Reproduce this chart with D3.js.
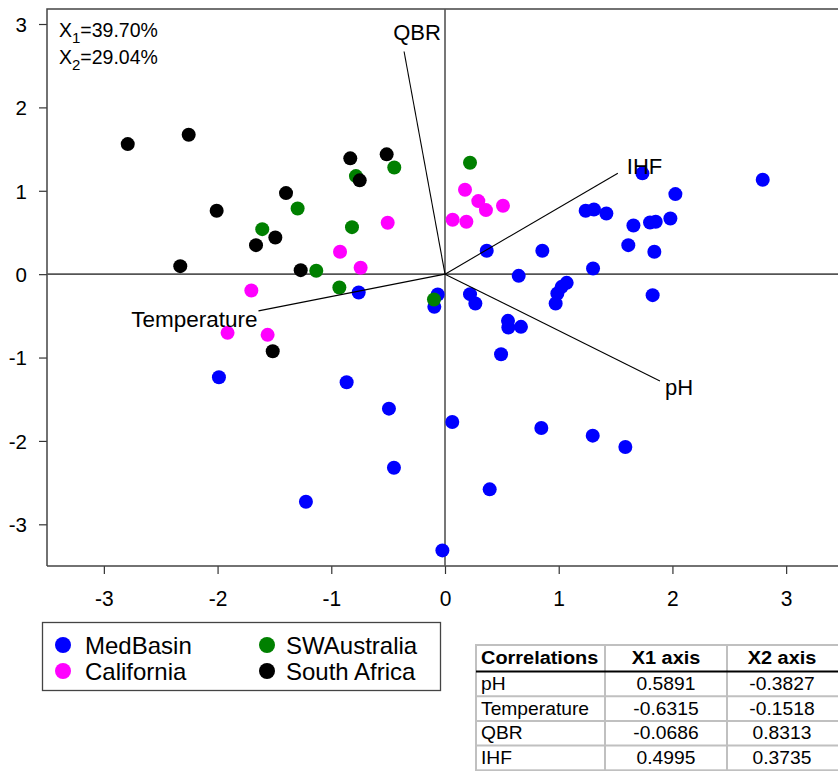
<!DOCTYPE html>
<html>
<head>
<meta charset="utf-8">
<script src="https://cdn.jsdelivr.net/npm/d3@7"></script>
<style>
  html, body { margin: 0; padding: 0; background: #fff; }
  svg { display: block; font-family: "Liberation Sans", Arial, sans-serif; }
</style>
</head>
<body>
<svg id="chart" width="838" height="771"></svg>
<script>
// ---------------- data ----------------
const groupNames = ["MedBasin", "California", "SWAustralia", "South Africa"];
const groupColors = ["#0000ff", "#ff00ff", "#008000", "#000000"];

const medBasin = [
  [1.736, 1.209], [2.794, 1.132], [2.026, 0.96], [1.237, 0.76], [1.31, 0.776],
  [1.419, 0.728], [1.657, 0.584], [1.803, 0.62], [1.853, 0.628], [1.982, 0.668],
  [1.612, 0.348], [1.841, 0.268], [0.367, 0.28], [0.856, 0.28], [1.302, 0.068],
  [0.648, -0.02], [1.07, -0.104], [1.026, -0.152], [0.988, -0.232], [0.973, -0.352],
  [1.826, -0.252], [0.22, -0.24], [0.267, -0.352], [0.554, -0.56], [0.557, -0.64],
  [0.668, -0.632], [0.493, -0.96], [-0.064, -0.244], [-0.094, -0.392], [0.064, -1.773],
  [0.847, -1.845], [1.299, -1.937], [1.586, -2.073], [0.393, -2.581], [-0.023, -3.313],
  [-0.759, -0.22], [-1.988, -1.237], [-0.865, -1.297], [-0.493, -1.613], [-0.449, -2.321],
  [-1.223, -2.729]
];
const california = [
  [-0.504, 0.616], [-0.923, 0.268], [-0.742, 0.076], [-1.703, -0.196], [-1.912, -0.704],
  [-1.56, -0.728], [0.176, 1.012], [0.293, 0.876], [0.36, 0.768], [0.51, 0.82],
  [0.067, 0.652], [0.188, 0.628]
];
const swAustralia = [
  [-0.783, 1.176], [-0.446, 1.28], [-1.296, 0.788], [-1.607, 0.54], [-0.818, 0.564],
  [-1.132, 0.04], [-0.929, -0.16], [0.22, 1.336], [-0.097, -0.304]
];
const southAfrica = [
  [-2.79, 1.56], [-2.254, 1.672], [-2.008, 0.76], [-1.398, 0.972], [-1.662, 0.348],
  [-1.492, 0.44], [-2.328, 0.096], [-1.269, 0.048], [-0.833, 1.389], [-0.513, 1.437],
  [-0.75, 1.125], [-1.515, -0.924]
];
// draw order: blue, magenta, green, black
const groups = [medBasin, california, swAustralia, southAfrica];

const vectorNames = ["pH", "Temperature", "QBR", "IHF"];
const vectorX = [1.89, -1.64, -0.36, 1.52];
const vectorY = [-1.28, -0.44, 2.67, 1.21];

const axisTicks = [-3, -2, -1, 0, 1, 2, 3];
const varianceLabels = [["X", "1", "=39.70%"], ["X", "2", "=29.04%"]];

const tableHeader = ["Correlations", "X1 axis", "X2 axis"];
const tableRows = ["pH", "Temperature", "QBR", "IHF"];
const corrX1 = ["0.5891", "-0.6315", "-0.0686", "0.4995"];
const corrX2 = ["-0.3827", "-0.1518", "0.8313", "0.3735"];

// ---------------- layout ----------------
const svg = d3.select("#chart");
const plot = { left: 47, top: 9, right: 843, bottom: 566 };
const x = d3.scaleLinear().domain([-3.5, 3.5]).range([plot.left, plot.right]);
const y = d3.scaleLinear().domain([-3.5, 3.18]).range([plot.bottom, plot.top]);

svg.append("defs").append("clipPath").attr("id", "clip")
  .append("rect").attr("x", plot.left).attr("y", plot.top)
  .attr("width", plot.right - plot.left).attr("height", plot.bottom - plot.top);

const fmt = d => String(d);  // plain hyphen-minus as in the original

// axes
const xAxis = svg.append("g")
  .attr("transform", `translate(0,${plot.bottom})`)
  .call(d3.axisBottom(x).tickValues(axisTicks).tickSize(8).tickPadding(12).tickFormat(fmt));
const yAxis = svg.append("g")
  .attr("transform", `translate(${plot.left},0)`)
  .call(d3.axisLeft(y).tickValues(axisTicks).tickSize(8).tickPadding(12).tickFormat(fmt));
[xAxis, yAxis].forEach(a => {
  a.select(".domain").remove();
  a.selectAll(".tick line").attr("stroke", "#333").attr("stroke-width", 1.2);
  a.selectAll(".tick text").attr("fill", "#000")
    .style("font-family", "'Liberation Sans', Arial, sans-serif");
});
xAxis.selectAll(".tick text").style("font-size", "21px")
  .attr("dy", 0)
  .attr("transform", "scale(1,1.08)")
  .attr("y", 40 / 1.08);
yAxis.selectAll(".tick text").style("font-size", "20.5px").attr("dy", "0.36em");

// frame
svg.append("path")
  .attr("d", `M${plot.left},${plot.bottom}H${plot.right}M${plot.left},${plot.bottom}V${plot.top}H${plot.right}`)
  .attr("fill", "none").attr("stroke", "#444").attr("stroke-width", 1.5);

const inner = svg.append("g").attr("clip-path", "url(#clip)");

// zero lines
inner.append("line").attr("x1", plot.left).attr("x2", plot.right)
  .attr("y1", y(0)).attr("y2", y(0)).attr("stroke", "#555").attr("stroke-width", 1.6);
inner.append("line").attr("x1", x(0)).attr("x2", x(0))
  .attr("y1", plot.top).attr("y2", plot.bottom).attr("stroke", "#555").attr("stroke-width", 1.6);

// points
groups.forEach((g, gi) => {
  inner.append("g").selectAll("circle").data(g).join("circle")
    .attr("cx", d => x(d[0])).attr("cy", d => y(d[1])).attr("r", 7)
    .attr("fill", groupColors[gi]);
});

// vectors
const vecG = inner.append("g");
vectorNames.forEach((name, i) => {
  vecG.append("line")
    .attr("x1", x(0)).attr("y1", y(0))
    .attr("x2", x(vectorX[i])).attr("y2", y(vectorY[i]))
    .attr("stroke", "#000").attr("stroke-width", 1.1);
});
const labelPlacement = {
  "pH": { dx: 5, dy: 14, anchor: "start" },
  "Temperature": { dx: -1, dy: 16, anchor: "end" },
  "QBR": { dx: 13, dy: -12, anchor: "middle" },
  "IHF": { dx: 9, dy: 1, anchor: "start" }
};
vectorNames.forEach((name, i) => {
  const p = labelPlacement[name];
  vecG.append("text")
    .attr("x", x(vectorX[i]) + p.dx).attr("y", y(vectorY[i]) + p.dy)
    .attr("text-anchor", p.anchor).style("font-size", name === "Temperature" ? "22.5px" : "22px")
    .attr("fill", "#000")
    .text(name);
});

// variance annotation
varianceLabels.forEach((v, i) => {
  const t = svg.append("text").attr("x", 59).attr("y", 37 + i * 27)
    .style("font-size", "19.5px").attr("fill", "#000");
  t.append("tspan").text(v[0]);
  t.append("tspan").attr("dy", 6).style("font-size", "15px").text(v[1]);
  t.append("tspan").attr("dy", -6).text(v[2]);
});

// legend
const legend = svg.append("g");
legend.append("rect").attr("x", 42.5).attr("y", 622.5).attr("width", 398).attr("height", 68)
  .attr("fill", "#fff").attr("stroke", "#444").attr("stroke-width", 1.3);
const legendPos = [[63, 645, 22], [63, 671, 22], [267, 645, 19], [267, 671, 19]];
groupNames.forEach((name, i) => {
  const [lx, ly, off] = legendPos[i];
  legend.append("circle").attr("cx", lx).attr("cy", ly).attr("r", 8).attr("fill", groupColors[i]);
  legend.append("text").attr("x", lx + off).attr("y", ly + 8.5)
    .style("font-size", "24px").attr("fill", "#000").text(name);
});

// correlation table
const table = svg.append("g");
const colEdges = [476, 605, 727, 849];
const rowTop = 645, headerH = 26.5, rowH = 24.7;
const nRows = tableRows.length;
const tableBottom = rowTop + headerH + nRows * rowH;
table.append("rect").attr("x", colEdges[0]).attr("y", rowTop)
  .attr("width", colEdges[3] - colEdges[0]).attr("height", tableBottom - rowTop)
  .attr("fill", "#fff").attr("stroke", "#c0c0c0").attr("stroke-width", 2);
colEdges.slice(1, 3).forEach(cx => {
  table.append("line").attr("x1", cx).attr("x2", cx).attr("y1", rowTop).attr("y2", tableBottom)
    .attr("stroke", "#c0c0c0").attr("stroke-width", 2);
});
for (let r = 1; r < nRows; r++) {
  const ly = rowTop + headerH + r * rowH;
  table.append("line").attr("x1", colEdges[0]).attr("x2", colEdges[3]).attr("y1", ly).attr("y2", ly)
    .attr("stroke", "#c0c0c0").attr("stroke-width", 2);
}
table.append("line").attr("x1", colEdges[0]).attr("x2", colEdges[3])
  .attr("y1", rowTop + headerH).attr("y2", rowTop + headerH)
  .attr("stroke", "#000").attr("stroke-width", 2);

function cellText(txt, cx, cy, anchor, bold) {
  table.append("text")
    .attr("transform", `translate(${cx},${cy}) scale(1.12,1.04)`)
    .attr("text-anchor", anchor)
    .style("font-size", bold ? "17.8px" : "17.2px").style("font-weight", bold ? "bold" : "normal")
    .attr("fill", "#000").text(txt);
}
const colCenters = [(colEdges[1] + colEdges[2]) / 2, (colEdges[2] + colEdges[3]) / 2];
cellText(tableHeader[0], colEdges[0] + 5, rowTop + headerH / 2 + 6, "start", true);
cellText(tableHeader[1], colCenters[0], rowTop + headerH / 2 + 6, "middle", true);
cellText(tableHeader[2], colCenters[1] - 6, rowTop + headerH / 2 + 6, "middle", true);
tableRows.forEach((name, r) => {
  const cy = rowTop + headerH + r * rowH + rowH / 2 + 6;
  cellText(name, colEdges[0] + 5, cy, "start", false);
  cellText(corrX1[r], colCenters[0], cy, "middle", false);
  cellText(corrX2[r], colCenters[1] - 6, cy, "middle", false);
});
</script>
</body>
</html>
